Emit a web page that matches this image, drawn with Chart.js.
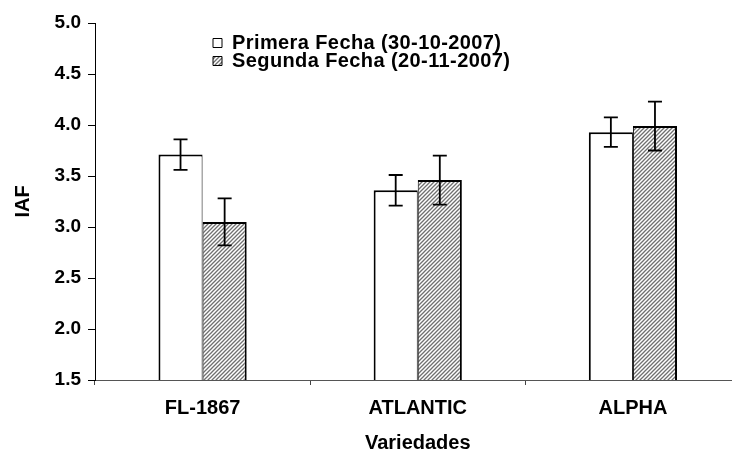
<!DOCTYPE html>
<html>
<head>
<meta charset="utf-8">
<script src="https://cdn.jsdelivr.net/npm/chart.js@4/dist/chart.umd.min.js"></script>
<style>
  html, body { margin: 0; padding: 0; background: #fff; overflow: hidden; width: 732px; height: 453px; }
  canvas { display: block; }
</style>
</head>
<body>
<canvas id="c" width="742" height="453"></canvas>
<script>
// ---- Data ----
const categories = ['FL-1867', 'ATLANTIC', 'ALPHA'];
const seriesNames = ['Primera Fecha (30-10-2007)', 'Segunda Fecha (20-11-2007)'];
const primera = [3.71, 3.36, 3.93];
const segunda = [3.05, 3.46, 3.99];
const errPrimera = [0.15, 0.15, 0.145];
const errSegunda = [0.23, 0.24, 0.24];
const yTicks = [1.5, 2.0, 2.5, 3.0, 3.5, 4.0, 4.5, 5.0];
const errors = [errPrimera, errSegunda];

// ---- Hatch pattern ----
function makeHatch() {
  const s = 4;
  const c = document.createElement('canvas');
  c.width = s; c.height = s;
  const g = c.getContext('2d');
  g.fillStyle = '#ffffff';
  g.fillRect(0, 0, s, s);
  g.strokeStyle = '#707070';
  g.lineWidth = 1.3;
  g.beginPath();
  g.moveTo(-1, s + 1); g.lineTo(s + 1, -1);
  g.moveTo(-1, 1); g.lineTo(1, -1);
  g.moveTo(s - 1, s + 1); g.lineTo(s + 1, s - 1);
  g.stroke();
  return g.createPattern(c, 'repeat');
}
const hatch = makeHatch();

const FONT = '"Liberation Sans", Arial, sans-serif';

const errorBars = {
  id: 'errorBars',
  afterDatasetsDraw(chart) {
    const ctx = chart.ctx;
    const y = chart.scales.y;
    ctx.save();
    ctx.strokeStyle = '#000';
    ctx.lineWidth = 1.8;
    chart.data.datasets.forEach((ds, i) => {
      const meta = chart.getDatasetMeta(i);
      meta.data.forEach((bar, j) => {
        const v = ds.data[j], e = errors[i][j];
        const yt = y.getPixelForValue(v + e);
        const yb = y.getPixelForValue(v - e);
        const x = bar.x;
        const hw = 7;
        ctx.beginPath();
        ctx.moveTo(x, yt); ctx.lineTo(x, yb);
        ctx.moveTo(x - hw, yt); ctx.lineTo(x + hw, yt);
        ctx.moveTo(x - hw, yb); ctx.lineTo(x + hw, yb);
        ctx.stroke();
      });
    });
    ctx.restore();
  }
};

// Place the legend inside the plot, top-left, stacked like the reference
const legendPos = {
  id: 'legendPos',
  beforeDraw(chart) {
    const l = chart.legend;
    if (!l._patched) {
      l._patched = true;
      l.draw = function () {
        if (!this.options.display) return;
        const ctx = this.ctx;
        ctx.save();
        ctx.letterSpacing = '0.4px';
        this._draw();
        ctx.restore();
      };
    }
    l.left = 215; l.top = 35;
    l.right = l.left + 420; l.bottom = l.top + 60;
  }
};

new Chart(document.getElementById('c'), {
  type: 'bar',
  data: {
    labels: categories,
    datasets: [
      {
        label: seriesNames[0],
        data: primera,
        backgroundColor: '#ffffff',
        borderColor: '#000000',
        borderWidth: { top: 2, left: 2, right: 1, bottom: 2 },
        borderSkipped: false,
        categoryPercentage: 0.41,
        barPercentage: 1.0
      },
      {
        label: seriesNames[1],
        data: segunda,
        backgroundColor: hatch,
        borderColor: '#000000',
        borderWidth: { top: 2, left: 1, right: 2, bottom: 2 },
        borderSkipped: false,
        categoryPercentage: 0.41,
        barPercentage: 1.0
      }
    ]
  },
  options: {
    responsive: false,
    animation: false,
    events: [],
    layout: { padding: { top: 23, right: 1.5, bottom: 0, left: 0 } },
    plugins: {
      tooltip: { enabled: false },
      legend: {
        position: 'chartArea',
        align: 'start',
        labels: {
          color: '#000',
          boxWidth: 9,
          boxHeight: 9,
          padding: -2,
          font: { family: FONT, size: 20, weight: 'bold' },
          generateLabels(chart) {
            return Chart.defaults.plugins.legend.labels.generateLabels(chart)
              .map(l => Object.assign(l, { lineWidth: 1, strokeStyle: '#000' }));
          }
        }
      }
    },
    scales: {
      x: {
        offset: true,
        grid: { offset: true, drawOnChartArea: false, drawTicks: true, tickLength: 5, color: '#444' },
        border: { display: true, color: '#555', width: 1 },
        ticks: { color: '#000', padding: 11, font: { family: FONT, size: 20, weight: 'bold' }, maxRotation: 0 },
        title: {
          display: true, text: 'Variedades', color: '#000',
          font: { family: FONT, size: 20, weight: 'bold', lineHeight: 1 },
          padding: { top: 0, bottom: 0 }
        },
        afterFit(scale) { scale.height = 73; }
      },
      y: {
        min: 1.5, max: 5.0,
        afterBuildTicks(scale) { scale.ticks = yTicks.map(v => ({ value: v })); },
        grid: { drawOnChartArea: false, drawTicks: true, tickLength: 7, color: '#000' },
        border: { display: true, color: '#000', width: 1 },
        ticks: {
          color: '#000', padding: 7,
          font: { family: FONT, size: 19, weight: 'bold' },
          callback: v => Number(v).toFixed(1)
        },
        title: {
          display: true, text: 'IAF', color: '#000',
          font: { family: FONT, size: 20, weight: 'bold', lineHeight: 1 },
          padding: { top: 13, bottom: 0 }
        },
        afterFit(scale) { scale.width = 95; }
      }
    }
  },
  plugins: [errorBars, legendPos]
});
</script>
</body>
</html>
